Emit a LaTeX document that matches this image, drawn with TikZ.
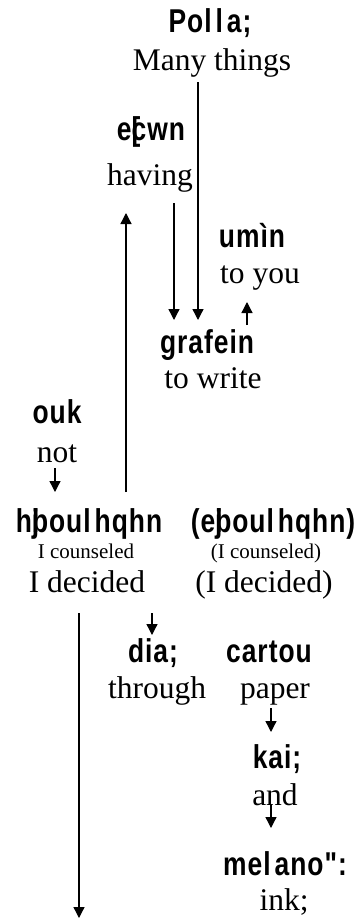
\documentclass[tikz,border=0pt]{standalone}
\usepackage{fontspec}
\setmainfont{Liberation Serif}
\newfontfamily\gkfont[FakeStretch=0.8,LetterSpace=3]{Liberation Sans}
\usetikzlibrary{arrows.meta}
\tikzset{
  greek/.style={font=\gkfont\bfseries\fontsize{33}{36}\selectfont,anchor=base,inner sep=0pt},
  gloss/.style={font=\fontsize{31.5}{36}\selectfont,anchor=base,inner sep=0pt},
  smallgloss/.style={gloss,font=\fontsize{21}{24}\selectfont},
  link/.style={line width=1.3pt,-{Triangle[width=11pt,length=11pt]}}
}
\def\wl{l\kern4pt}

\begin{document}
\begin{tikzpicture}[x=1pt,y=-1pt]
  \useasboundingbox (0,0) rectangle (357,919);

  % Words
  \node[greek] (polla) at (210,32) {Po\wl\wl a;};
  \node[gloss] (many) at (212,70) {Many things};
  \node[greek] (echwn) at (151,140) {e\rlap{[}cwn};
  \node[gloss] (having) at (150,185) {having};
  \node[greek] (humin) at (252,247) {umìn};
  \node[gloss] (toyou) at (260,283) {to you};
  \node[greek] (grafein) at (207,353) {grafein};
  \node[gloss] (towrite) at (213,388) {to write};
  \node[greek] (ouk) at (57,423) {ouk};
  \node[gloss] (not) at (57,462) {not};
  \node[greek] (hjb) at (89,532) {h\rlap{j}bou\wl hqhn};
  \node[greek] (ejb) at (273,532) {(e\rlap{j}bou\wl hqhn)};
  \node[smallgloss] (counsel) at (86,558) {I counseled};
  \node[smallgloss] (counselp) at (266,558) {(I counseled)};
  \node[gloss] (decided) at (87,592) {I decided};
  \node[gloss] (decidedp) at (264,592) {(I decided)};
  \node[greek] (dia) at (153,662) {dia;};
  \node[gloss] (through) at (157,698) {through};
  \node[greek] (cartou) at (269,662) {cartou};
  \node[gloss] (paper) at (275,698) {paper};
  \node[greek] (kai) at (277,768) {kai;};
  \node[gloss] (and) at (275,805) {and};
  \node[greek] (melano) at (285,875) {me\wl ano":};
  \node[gloss] (ink) at (284,910) {ink;};
  \coordinate (bottom) at (79,918);

  % Links
  \draw[link] ([shift={(-14,12)}]many.base) -- ([shift={(-9,-33)}]grafein.base);
  \draw[link] ([shift={(24,18)}]having.base) -- ([shift={(-33,-33)}]grafein.base);
  \draw[link] ([shift={(40,-28)}]grafein.base) -- ([shift={(-13,19)}]toyou.base);
  \draw[link] ([shift={(37,-40)}]hjb.base) -- ([shift={(-24,28)}]having.base);
  \draw[link] ([shift={(-2,6)}]not.base) -- ([shift={(-34,-40)}]hjb.base);
  \draw[link] ([shift={(-8,21)}]decided.base) -- (bottom);
  \draw[link] ([shift={(65,21)}]decided.base) -- ([shift={(-1,-27)}]dia.base);
  \draw[link] ([shift={(-4,10)}]paper.base) -- ([shift={(-6,-36)}]kai.base);
  \draw[link] ([shift={(-4,0)}]and.base) -- ([shift={(-14,-47)}]melano.base);
\end{tikzpicture}
\end{document}
